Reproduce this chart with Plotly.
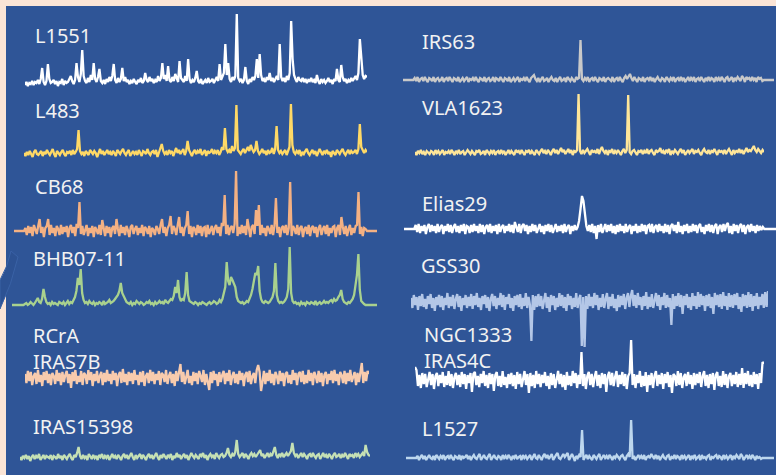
import plotly.graph_objects as go

W, H = 776, 475

# ---------------- data: spectra (relative intensity, arbitrary units) ----------------
L1551 = [0,3,-1,2,1,4,0,3,2,5, 1,6,17,3,0,4,21,6,2,3, 5,1,4,-1,3,2,6,0,4,2,
         3,7,9,4,1,5,22,8,3,11, 35,9,4,2,7,3,10,5,22,6, 3,8,16,4,2,5,1,6,3,8,
         4,9,21,5,2,7,3,6,17,4, 8,3,5,1,4,2,6,3,1,5, 3,7,2,4,12,5,3,8,4,6,
         2,5,3,9,4,7,22,6,10,4, 19,5,3,8,4,11,6,3,24,7, 5,3,9,4,26,6,2,5,3,7,
         14,4,2,6,1,3,5,2,7,3, 4,6,2,5,8,4,21,5,9,12, 41,10,22,6,3,8,5,9,71,7,
         4,6,2,5,18,4,1,6,3,8, 5,9,26,7,31,10,4,6,3,8, 5,12,4,7,3,6,9,5,41,8,
         4,7,3,9,5,12,64,26,10,6, 3,8,5,4,7,3,6,2,5,4, 7,3,5,2,10,4,1,6,3,5,
         2,4,7,3,5,1,6,4,16,5, 3,20,8,4,6,2,5,3,7,4, 6,9,5,12,46,29,10,6,9,8]
L483 = [2,-1,3,0,4,1,-2,3,5,1, 0,2,4,-1,3,1,5,2,0,3, 6,1,-2,4,2,0,3,5,1,-1,
        3,2,4,0,5,1,3,6,25,4, 1,3,-1,4,2,0,5,3,1,4, 2,-2,3,6,1,4,0,2,5,1,
        3,0,4,2,-1,5,3,1,4,6, 2,0,3,5,-1,2,4,1,3,0, 5,2,-1,4,3,1,6,2,0,3,
        4,1,5,-2,3,6,11,4,1,3, 0,5,2,4,-1,3,7,2,5,1, 3,6,0,4,14,5,2,-1,3,5,
        1,4,2,6,0,3,5,-1,4,2, 3,6,1,4,2,5,0,3,8,5, 27,6,3,5,2,9,4,7,50,5,
        3,1,4,6,2,5,8,4,10,6, 3,5,14,4,1,3,6,2,4,0, 5,2,3,7,1,6,29,5,2,4,
        1,3,5,0,4,8,51,10,3,1, 4,2,5,-1,3,1,4,6,2,0, 3,5,1,4,-1,2,6,3,0,4,
        2,5,1,3,-2,4,2,0,5,3, 1,4,6,2,0,3,5,1,4,2, 3,5,1,6,31,8,4,2,5,3]
CB68 = [0,0,0,0,0,0,0,0,3,-4, 5,-2,4,-5,6,1,-3,5,12,-2, 4,-6,3,5,12,-4,6,-2,3,-5,
        5,2,-4,6,-3,4,-1,5,-6,3, 6,-2,4,-5,7,3,29,-3,5,-4, 2,6,-5,3,-2,5,-6,4,1,-3,
        6,-4,11,3,-5,5,-2,4,-6,3, 5,-3,12,2,-5,6,-2,4,-4,5, 1,-6,4,6,-3,2,5,-4,3,-2,
        6,-5,4,2,-3,5,-6,3,1,-4, 5,2,-3,6,12,-2,4,-5,3,6, 15,-3,5,2,-4,6,14,-2,4,-5,
        3,6,20,-3,5,-6,4,2,-4,6, -2,5,-5,3,4,-6,6,-3,2,5, -4,3,6,-2,4,-5,8,5,36,-3,
        6,-4,3,5,-2,7,60,-5,4,-3, 6,-2,5,-4,12,3,-6,4,6,-3, 21,5,26,-4,6,-2,3,-5,5,2,
        -3,6,-4,5,33,-2,4,-6,3,5, -2,6,-4,3,49,-5,5,2,-3,6, -4,3,5,-6,2,4,-3,6,-5,3,
        5,-2,4,-6,3,6,-4,2,5,-3, 6,-5,3,-2,4,5,-6,3,6,-4, 14,4,-3,5,-5,2,6,-4,3,-2,
        5,6,39,-3,4,-5,3,2,0,0, 0,0,0,0,0,0]
BHB07_11 = [0,0,0,0,0,0,0,0,0,1, 2,0,1,3,1,0,2,4,7,3, 2,6,16,8,3,1,2,0,3,1,
            2,1,0,3,2,1,3,0,2,4, 1,3,2,5,8,14,27,20,36,12, 5,2,3,1,4,2,1,3,0,2,
            1,3,2,0,4,1,2,3,5,2, 3,4,6,8,10,14,22,12,9,5, 3,2,1,3,0,2,1,4,2,1,
            3,2,0,1,3,2,4,1,2,0, 3,1,2,4,2,3,1,5,3,2, 4,6,5,9,18,12,25,8,4,6,
            5,12,33,10,4,3,2,1,3,2, 0,2,1,3,2,1,0,2,3,1, 2,4,3,1,2,5,3,6,12,18,
            43,24,20,28,25,22,18,8,4,3, 2,3,1,2,4,3,6,10,16,24, 32,30,39,14,6,3,2,4,3,2,
            3,5,8,14,42,10,4,2,3,2, 3,5,8,16,58,12,4,2,3,1, 2,0,3,1,2,0,3,2,1,3,
            2,1,4,0,2,3,1,2,4,2, 3,2,4,5,3,6,4,5,8,10, 15,6,3,2,1,3,2,4,6,10,
            18,30,51,15,4,2,1,0,0,0, 0,0,0,0,0,0]
RCRA_IRAS7B = [4,-5,7,-3,6,-7,2,5,-6,8, -4,3,-8,6,-2,7,-5,4,-7,5, 2,-6,8,-3,5,-7,6,-4,3,7,
               -5,4,-10,6,-3,8,-6,2,-4,7, -7,5,3,-6,8,-2,6,-8,4,-3, 7,-5,2,6,-7,5,-4,8,-3,4,
               -6,7,-2,5,-8,3,6,-5,9,-4, 4,-7,6,-3,5,-6,8,-2,3,-7, 6,-4,7,-8,2,5,-5,8,-3,6,
               -6,4,-2,7,-7,5,3,-4,8,-6, 2,6,-5,4,-8,7,-3,5,14,-4, 6,-6,3,8,-5,2,-7,6,-3,5,
               -6,7,2,-4,8,-7,4,-3,-12,6, -5,7,-2,4,-8,6,-4,3,7,-6, 5,-3,8,-7,2,6,-5,4,-6,7,
               -2,5,-8,3,6,-4,7,-6,2,5, -5,8,13,6,-13,-4,7,-6,5,-3, 8,-5,4,-7,6,2,-6,7,-3,5,
               -8,4,6,-5,3,-6,8,-2,5,-7, 4,6,-4,7,-6,3,-5,8,-3,5, -7,6,2,-5,7,-4,5,-8,3,6,
               -6,4,-2,7,-5,8,-3,4,-7,6, 3,-5,7,-6,5,-3,8,-4,2,6, -7,5,-4,8,15,-5,6,-3,7,4]
IRAS15398 = [1,-2,2,0,3,-1,2,-3,1,3, -1,2,0,4,-2,1,3,-1,2,1, 0,3,-2,2,1,-1,4,0,2,-2,
             3,1,-1,2,4,0,-2,3,1,5, 11,2,-1,3,0,2,-2,4,1,-1, 3,0,2,-2,3,1,4,-1,2,0,
             3,-2,1,4,0,2,-1,3,1,-2, 2,4,0,3,-1,2,5,1,-2,3, 0,2,4,-1,3,1,-2,2,4,0,
             3,-1,2,5,1,-2,3,0,4,2, -1,3,1,4,-2,2,0,5,1,3, -1,2,4,0,3,-2,1,5,2,0,
             3,1,-1,4,2,5,0,3,-2,2, 4,1,3,-1,5,2,0,3,4,1, 2,5,10,3,1,4,2,6,18,4,
             1,3,5,0,4,2,-1,3,5,2, 4,1,3,6,8,2,4,0,3,5, 1,4,2,6,11,3,0,4,2,5,
             1,3,5,2,4,7,15,5,2,4, 0,3,5,1,4,2,-1,3,4,1, 5,2,0,3,4,-1,2,5,1,3,
             0,4,2,-1,3,5,1,2,4,0, 3,1,5,2,-1,4,2,3,0,5, 2,4,1,3,5,2,13,6,3,2]
IRS63 = [0,0,0,0,0,0,0,0,2,-1, 3,-2,1,2,-1,3,0,-2,2,1, -1,3,-2,1,2,-1,0,3,-2,1,
         2,-1,3,0,-2,2,1,-1,3,-2, 0,2,-1,1,3,-2,1,0,2,-1, 3,0,-2,2,1,-1,3,-2,1,2,
         -1,0,3,-2,2,1,-1,3,0,-2, 2,1,-1,3,-2,0,2,-1,1,3, -2,1,0,2,-1,3,0,-2,2,4,
         5,1,-1,2,-2,1,3,-1,0,2, -2,1,3,0,-1,2,-2,1,3,-1, 0,2,-2,3,1,-1,2,0,-2,3,
         1,2,40,1,-1,2,0,3,-2,1, 2,-1,3,0,-2,2,1,-1,3,-2, 1,2,0,-1,3,-2,1,2,-1,3,
         0,-2,2,4,1,3,6,2,-1,3, 0,-2,2,1,-1,3,-2,1,2,0, 3,-1,2,-2,1,3,0,-1,2,1,
         -2,3,1,-1,2,0,3,-2,1,2, -1,3,0,2,-2,1,3,-1,2,0, 3,-2,1,2,-1,3,1,-2,2,0,
         3,-1,2,1,-2,3,0,2,-1,3, 1,-2,2,3,-1,1,3,-2,2,0, 3,1,-1,4,2,-2,3,1,2,-1,
         3,0,2,-2,3,1,2,-1,0,0, 0,0,0,0,0,0]
VLA1623 = [1,-2,2,0,3,-1,1,-2,2,0, -1,2,1,-2,3,0,2,-1,1,3, -2,1,0,2,-1,3,1,-2,2,0,
           3,-1,1,2,-2,0,3,1,-1,2, 0,-2,2,1,3,-1,0,2,-2,3, 1,-1,2,0,3,-2,1,2,-1,3,
           0,2,-2,1,3,-1,2,0,-2,3, 1,2,-1,3,0,-2,2,1,3,-1, 2,0,-2,3,1,-1,2,4,0,2,
           -1,3,1,-2,2,4,0,3,-1,2, 5,1,3,-1,2,4,0,3,-2,2, 1,3,59,2,-1,3,0,2,4,1,
           -2,3,1,2,0,4,-1,3,6,2, 0,3,-2,2,1,4,-1,2,0,3, 1,-2,2,4,0,3,58,1,-1,2,
           3,0,-2,2,1,3,-1,2,0,4, -1,2,3,0,-2,3,1,2,5,0, 2,-1,3,1,4,-2,2,0,3,1,
           -1,2,4,0,3,-2,1,3,0,2, 4,-1,2,1,3,0,-2,2,4,1, 0,3,-1,2,1,4,0,-2,3,1,
           2,0,3,-1,2,4,1,-2,3,0, 2,1,4,0,3,-1,2,5,1,3, 2,4,7,3,1,4,2,0,3,1]
ELIAS29 = [0,0,0,0,0,0,0,0,4,-3, 5,-4,3,-2,4,-5,2,5,-3,4, -2,3,-4,5,-3,2,4,-5,3,-2,
           5,-3,4,-4,2,5,-3,3,-4,4, -2,5,-5,3,2,-4,4,-3,5,-2, 3,-4,5,-3,4,-5,2,4,-3,5,
           -4,3,-2,4,-5,5,-3,2,4,-4, 3,-2,5,-3,4,-4,7,2,-3,5, -4,3,5,-2,4,-5,3,-3,5,-2,
           4,-4,2,5,-3,3,-5,4,-2,5, -3,4,-4,2,5,-3,3,-2,4,-4, 5,-3,2,4,-5,3,-2,4,-1,2,
           8,20,33,28,14,3,-2,4,-3,5, -4,3,-10,4,-3,5,-4,2,5,-3, 4,-2,5,-4,3,-5,4,-3,5,-2,
           3,-4,5,-3,2,4,-5,3,-2,5, -4,3,-3,5,-2,4,-5,3,4,-3, 5,-4,2,4,-3,5,-2,3,-4,5,
           -3,4,-5,3,5,-2,4,-4,7,-3, 3,-5,4,-2,5,-4,3,-3,5,-2, 4,-4,3,5,-3,2,-5,4,-2,5,
           -3,4,-4,3,5,-5,2,4,-3,5, -2,4,6,-4,3,-5,5,-2,4,-4, 3,5,-3,4,-5,2,4,-3,5,-2,
           3,-4,4,-2,3,-1,2,0,0,0, 0,0,0,0,0,0]
GSS30 = [4,-6,7,-3,5,-8,6,-4,8,-5, 3,-7,6,-2,8,-6,4,-9,5,-3, 7,-5,6,-8,4,-3,9,-6,5,-4,
         7,-7,3,8,-5,6,-9,4,-3,7, -6,5,-4,8,-7,6,-3,9,-5,4, -8,6,-2,7,-6,5,-9,3,8,-4,
         6,-7,4,-3,9,-5,7,-8,5,-2, 8,-6,4,-9,6,-3,7,-5,8,-7, 4,-4,9,-6,5,-3,-39,7,-8,6,
         -5,8,-4,6,-7,3,9,-6,5,-10, 7,-3,6,-8,4,-5,9,-4,7,-6, 5,-9,8,-3,6,-7,4,-5,9,-6,
         3,7,-44,5,-45,6,-7,8,-4,5, -6,9,-3,7,-8,4,-5,8,-6,3, 9,-7,5,-4,8,-6,3,-9,7,-5,
         6,-3,8,-7,4,9,-5,6,12,-4, 7,-6,9,-3,5,-8,6,-4,10,-7, 5,-5,8,-6,3,9,-4,7,-8,5,
         -3,9,-6,7,-5,4,-23,8,-7,6, -4,9,-5,7,-12,6,-3,8,-6,5, -8,9,-4,6,-7,10,-5,8,-3,6,
         -9,7,-4,8,-6,5,-12,9,-3,7, -5,8,-7,10,-4,6,-8,9,-5,7, -6,8,-3,9,-7,5,-10,8,-4,7,
         -6,10,-5,8,-9,6,-4,9,-7,5, -3,8,-6,10,-5,11]
NGC1333_IRAS4C = [13,10,-6,5,-8,7,-4,6,-7,3, 8,-5,6,-9,4,7,-6,5,-3,8, -7,4,-5,9,-6,6,-8,3,7,-5,
                  5,-7,8,-4,6,-9,5,-3,7,-12, 6,8,-5,4,-7,6,-3,9,-6,5, -8,7,-4,6,-11,5,8,-6,4,-7,
                  9,-5,3,-8,6,-4,7,-6,5,-9, 8,-4,6,-7,3,9,-5,6,-13,7, -6,5,-8,9,-4,6,-7,5,-3,8,
                  -6,4,-9,7,-5,6,-8,3,9,-4, 6,-7,5,-10,8,-5,4,-6,9,-3, 7,-8,5,-4,28,-6,6,-9,4,8,
                  -5,6,-7,3,9,-6,5,-8,7,-4, 6,-12,4,8,-5,7,-6,3,9,-7, 5,-4,8,-6,6,-9,4,7,40,-5,
                  6,-8,5,-3,9,-7,4,-6,8,-12, 5,-5,7,-8,4,9,-6,5,-4,7, -9,6,-3,8,-7,5,-13,6,4,-6,
                  9,-5,7,-8,3,6,-6,8,-4,5, -9,7,-5,6,-3,8,-7,4,9,-6, 5,-8,6,-4,7,-10,5,8,-6,4,
                  -7,9,-5,6,-8,4,7,-6,5,-4, 8,-7,6,-5,12,-8,7,-4,9,-6, 5,-7,8,-4,6,-9,7,-3,18,16]
L1527 = [0,0,0,0,0,0,0,0,2,-2, 1,3,-1,2,-2,1,3,0,-1,2, -2,3,1,-1,2,0,3,-2,1,2,
         -1,3,0,-2,2,1,-1,3,-2,2, 0,1,3,-1,2,-2,1,3,0,-1, 2,4,-2,1,3,0,-1,2,4,-2,
         1,3,0,-1,2,1,-2,3,0,2, -1,3,1,-2,2,0,3,-1,1,2, -2,3,0,2,-1,1,3,-2,2,4,
         0,-1,3,1,-2,2,4,0,3,-1, 2,4,-2,1,3,5,0,-1,2,4, 1,3,5,-2,2,4,1,-3,2,0,
         3,1,28,-2,1,3,-1,2,0,-2, 3,1,-1,2,4,-2,1,3,0,2, -1,3,1,-2,2,0,3,1,-1,2,
         3,0,-2,2,4,1,38,-1,2,-2, 1,3,0,2,-1,3,-2,1,2,0, 4,1,-1,3,0,2,-2,1,3,0,
         -1,2,3,-2,1,0,3,-1,2,1, -2,3,0,2,-1,1,3,-2,2,0, 3,-1,1,2,-2,3,0,1,-1,2,
         3,-2,1,0,2,3,-1,2,1,-2, 3,0,2,-1,1,3,-2,2,0,3, 1,-1,4,2,-2,1,3,0,2,-1,
         3,1,-2,2,0,1,-1,0,0,0, 0,0,0,0,0,0]

source_labels = ["L1551", "L483", "CB68", "BHB07-11", "RCrA<br>IRAS7B", "IRAS15398",
                 "IRS63", "VLA1623", "Elias29", "GSS30", "NGC1333<br>IRAS4C", "L1527"]
spectra = [L1551, L483, CB68, BHB07_11, RCRA_IRAS7B, IRAS15398,
           IRS63, VLA1623, ELIAS29, GSS30, NGC1333_IRAS4C, L1527]

# ---------------- styling / layout (pixels) ----------------
colors = ["#FFFFFF", "#FFD966", "#F4B183", "#A9D18E", "#F8CBAD", "#C5E0B4",
          "#C9C9C9", "#FFE699", "#FFFFFF", "#B4C7E7", "#FFFFFF", "#BDD7EE"]
x_left = [25, 24, 14, 12, 25, 20, 403, 415, 404, 411, 415, 406]
x_right = [367, 367, 377, 377, 369, 370, 774, 764, 776, 768, 764, 774]
base_y = [85, 155, 231, 305, 378, 458, 80, 153, 229, 302, 380, 458]
label_x = [33, 33, 33, 31, 31, 31, 420, 420, 420, 419, 422, 420]
label_y = [36, 110, 186, 258, 348, 426, 41, 108, 203, 265, 347, 428]

BG_BLUE = "#2F5597"
PEACH = "#FBE5D6"

fig = go.Figure()
layout_axes = {}
annotations = []
for i, vals in enumerate(spectra):
    k = "" if i == 0 else str(i + 1)
    n = len(vals)
    fig.add_trace(go.Scatter(
        x=list(range(n)), y=vals, mode="lines",
        line=dict(color=colors[i], width=2.3),
        xaxis="x" + k, yaxis="y" + k, hoverinfo="skip", showlegend=False))
    b = base_y[i]
    top = min(80, b)
    bot = min(55, H - b)
    layout_axes["xaxis" + k] = dict(domain=[x_left[i] / W, x_right[i] / W], range=[0, n - 1],
                                    visible=False, fixedrange=True, anchor="y" + k)
    layout_axes["yaxis" + k] = dict(domain=[1 - (b + bot) / H, 1 - (b - top) / H], range=[-bot, top],
                                    visible=False, fixedrange=True, anchor="x" + k)
    annotations.append(dict(
        text=source_labels[i], x=label_x[i] / W, y=1 - label_y[i] / H,
        xref="paper", yref="paper", xanchor="left", yanchor="middle", align="left",
        showarrow=False, font=dict(family="Noto Sans", size=20, color="#F2F2F2")))

def pp(x, y):
    return f"{x / W:.5f},{1 - y / H:.5f}"

shapes = [
    dict(type="rect", xref="paper", yref="paper", x0=6 / W, x1=1, y0=0, y1=1 - 6 / H,
         fillcolor=BG_BLUE, line=dict(width=0), layer="below"),
    dict(type="path", xref="paper", yref="paper", layer="below",
         path=("M " + pp(0, 280) + " Q " + pp(8, 266) + " " + pp(11, 251) +
               " L " + pp(18, 257) + " Q " + pp(12, 284) + " " + pp(0, 309) + " Z"),
         fillcolor="#2D5293", line=dict(color="#3A62A6", width=1)),
]

fig.update_layout(
    width=W, height=H, margin=dict(l=0, r=0, t=0, b=0),
    paper_bgcolor=PEACH, plot_bgcolor="rgba(0,0,0,0)",
    showlegend=False, shapes=shapes, annotations=annotations,
    **layout_axes)

fig.write_html("out.html", config={"displayModeBar": False})
